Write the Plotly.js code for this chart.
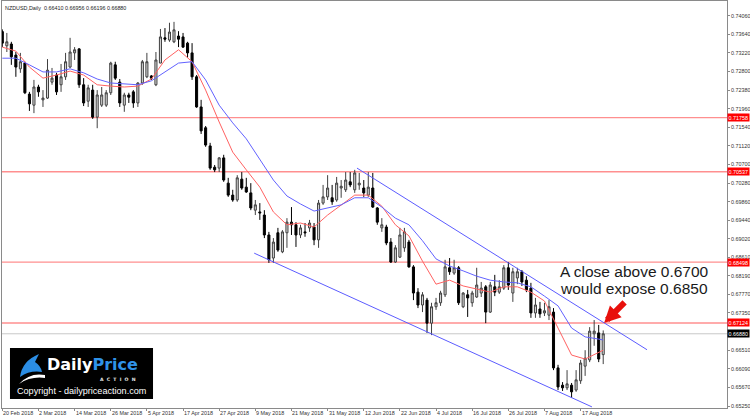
<!DOCTYPE html>
<html><head><meta charset="utf-8">
<script src="https://cdn.plot.ly/plotly-3.0.1.min.js"></script>
<style>html,body{margin:0;padding:0;background:#fff}</style>
</head><body><div id="chart" style="width:750px;height:420px"></div>
<script>
const symbolTitle = "NZDUSD,Daily  0.66410 0.66956 0.66196 0.66880";

const open = [
0.7370,0.7338,0.7342,0.7317,0.7286,0.7299,0.7229,0.7204,0.7245,0.7216,
0.7220,0.7256,0.7272,0.7250,0.7268,0.7290,0.7322,0.7331,0.7250,0.7213,
0.7238,0.7177,0.7204,0.7204,0.7232,0.7295,0.7256,0.7204,0.7227,0.7234,
0.7209,0.7254,0.7268,0.7270,0.7250,0.7299,0.7356,0.7351,0.7347,0.7360,
0.7358,0.7344,0.7322,0.7268,0.7200,0.7153,0.7112,0.7064,0.7062,0.7085,
0.7028,0.7001,0.6990,0.7037,0.7019,0.7006,0.6967,0.6963,0.6956,0.6911,
0.6859,0.6916,0.6873,0.6916,0.6940,0.6934,0.6911,0.6918,0.6927,0.6929,
0.6900,0.6983,0.6997,0.6995,0.6990,0.7017,0.7013,0.7031,0.7013,0.7024,
0.7017,0.7001,0.7017,0.6972,0.6927,0.6929,0.6895,0.6850,0.6861,0.6882,
0.6895,0.6839,0.6782,0.6753,0.6764,0.6712,0.6749,0.6758,0.6776,0.6837,
0.6825,0.6837,0.6749,0.6776,0.6758,0.6771,0.6780,0.6794,0.6737,0.6794,
0.6782,0.6791,0.6837,0.6780,0.6814,0.6828,0.6809,0.6791,0.6735,0.6744,
0.6735,0.6730,0.6737,0.6611,0.6572,0.6566,0.6572,0.6561,0.6582,0.6615,
0.6629,0.6688,0.6690,0.66410];
const high = [
0.7375,0.7367,0.7347,0.7324,0.7322,0.7302,0.7234,0.7261,0.7250,0.7238,
0.7308,0.7288,0.7277,0.7297,0.7322,0.7356,0.7335,0.7333,0.7265,0.7250,
0.7250,0.7238,0.7245,0.7238,0.7302,0.7302,0.7263,0.7232,0.7232,0.7238,
0.7256,0.7306,0.7322,0.7272,0.7324,0.7376,0.7378,0.7390,0.7392,0.7371,
0.7367,0.7347,0.7344,0.7272,0.7216,0.7157,0.7119,0.7069,0.7087,0.7092,
0.7040,0.7013,0.7046,0.7053,0.7040,0.7028,0.6990,0.6983,0.6967,0.6918,
0.6904,0.6927,0.6922,0.6949,0.6974,0.6940,0.6934,0.6938,0.6945,0.6938,
0.6990,0.7024,0.7046,0.7024,0.7042,0.7035,0.7053,0.7053,0.7058,0.7051,
0.7035,0.7053,0.7051,0.6974,0.6949,0.6934,0.6904,0.6888,0.6927,0.6927,
0.6900,0.6843,0.6791,0.6782,0.6769,0.6758,0.6769,0.6785,0.6855,0.6859,
0.6855,0.6841,0.6782,0.6787,0.6785,0.6837,0.6805,0.6798,0.6805,0.6821,
0.6809,0.6843,0.6850,0.6837,0.6837,0.6832,0.6818,0.6803,0.6769,0.6760,
0.6758,0.6764,0.6746,0.6618,0.6579,0.6606,0.6577,0.6606,0.6629,0.6651,
0.6703,0.6719,0.6708,0.66956];
const low = [
0.7335,0.7324,0.7295,0.7268,0.7277,0.7229,0.7191,0.7186,0.7223,0.7200,
0.7218,0.7250,0.7227,0.7234,0.7261,0.7288,0.7306,0.7243,0.7202,0.7200,
0.7173,0.7152,0.7200,0.7200,0.7227,0.7261,0.7200,0.7189,0.7209,0.7198,
0.7200,0.7250,0.7265,0.7261,0.7247,0.7299,0.7347,0.7347,0.7344,0.7335,
0.7333,0.7311,0.7261,0.7198,0.7139,0.7110,0.7058,0.7053,0.7053,0.7031,
0.6997,0.6986,0.6986,0.7013,0.7006,0.6967,0.6956,0.6945,0.6904,0.6848,
0.6848,0.6873,0.6870,0.6882,0.6911,0.6884,0.6904,0.6907,0.6918,0.6888,
0.6882,0.6979,0.6990,0.6979,0.6986,0.6995,0.7008,0.7019,0.7006,0.7013,
0.6997,0.6997,0.6972,0.6934,0.6918,0.6888,0.6848,0.6848,0.6859,0.6873,
0.6837,0.6764,0.6746,0.6737,0.6690,0.6685,0.6742,0.6751,0.6771,0.6821,
0.6821,0.6753,0.6746,0.6726,0.6749,0.6769,0.6771,0.6712,0.6735,0.6773,
0.6778,0.6787,0.6787,0.6760,0.6800,0.6796,0.6782,0.6724,0.6724,0.6724,
0.6728,0.6719,0.6606,0.6561,0.6559,0.6561,0.6543,0.6557,0.6575,0.6593,
0.6624,0.6661,0.6624,0.66196];
const close = [
0.7344,0.7347,0.7313,0.7290,0.7302,0.7232,0.7207,0.7245,0.7234,0.7220,
0.7283,0.7265,0.7234,0.7268,0.7302,0.7324,0.7329,0.7250,0.7209,0.7243,
0.7177,0.7227,0.7227,0.7232,0.7299,0.7265,0.7209,0.7227,0.7222,0.7209,
0.7254,0.7302,0.7302,0.7265,0.7306,0.7358,0.7353,0.7369,0.7374,0.7353,
0.7335,0.7322,0.7268,0.7200,0.7146,0.7114,0.7062,0.7058,0.7085,0.7035,
0.7001,0.6990,0.7040,0.7017,0.7008,0.6972,0.6979,0.6961,0.6911,0.6855,
0.6895,0.6877,0.6918,0.6940,0.6934,0.6911,0.6927,0.6916,0.6938,0.6900,
0.6983,0.6997,0.7017,0.6986,0.7028,0.7021,0.7035,0.7024,0.7051,0.7028,
0.7006,0.7019,0.6974,0.6940,0.6934,0.6893,0.6850,0.6882,0.6911,0.6918,
0.6839,0.6780,0.6753,0.6776,0.6712,0.6749,0.6758,0.6780,0.6839,0.6828,
0.6837,0.6758,0.6780,0.6769,0.6780,0.6798,0.6791,0.6737,0.6798,0.6782,
0.6794,0.6837,0.6798,0.6828,0.6828,0.6805,0.6787,0.6735,0.6753,0.6733,
0.6740,0.6749,0.6611,0.6568,0.6566,0.6575,0.6557,0.6584,0.6622,0.6633,
0.6694,0.6694,0.6631,0.66880];

const dateLabels = ["20 Feb 2018","2 Mar 2018","14 Mar 2018","26 Mar 2018","5 Apr 2018","17 Apr 2018",
"27 Apr 2018","9 May 2018","21 May 2018","31 May 2018","12 Jun 2018","22 Jun 2018","4 Jul 2018",
"16 Jul 2018","26 Jul 2018","7 Aug 2018","17 Aug 2018"];
const daysPerLabel = 8;

const maDay = [0,3,6,9,12,15,18,21,24,27,30,33,36,39,42,45,48,51,54,57,60,63,66,69,72,75,78,81,84,87,90,93,96,99,102,105,108,111,114,117,120,123,126,129,132,133];
const maFast = [0.7335,0.7326,0.7290,0.7265,0.7272,0.7281,0.7272,0.7250,0.7247,0.7245,0.7247,0.7263,0.7306,0.7329,0.7302,0.7238,0.7166,0.7098,0.7058,0.7019,0.6963,0.6934,0.6938,0.6929,0.6956,0.6979,0.7001,0.7001,0.6976,0.6934,0.6909,0.6852,0.6800,0.6809,0.6796,0.6789,0.6782,0.6794,0.6794,0.6782,0.6762,0.6701,0.6640,0.6631,0.6647,0.6651];
const maSlow = [0.7310,0.7310,0.7295,0.7279,0.7279,0.7286,0.7277,0.7263,0.7254,0.7252,0.7250,0.7259,0.7279,0.7299,0.7302,0.7261,0.7204,0.7164,0.7128,0.7080,0.7035,0.6999,0.6981,0.6965,0.6972,0.6979,0.6995,0.6995,0.6974,0.6949,0.6934,0.6898,0.6857,0.6841,0.6830,0.6818,0.6809,0.6805,0.6803,0.6794,0.6773,0.6751,0.6701,0.6681,0.6676,0.6674];

const upperDay = [78.5, 142.7], upperPrice = [0.7062, 0.6652];
const lowerDay = [55.75, 130.5], lowerPrice = [0.6870, 0.6523];

const levels = [0.71758, 0.70537, 0.68498, 0.67124];
const lastPrice = 0.66880;
const yTicks = [0.74060,0.73640,0.73220,0.72800,0.72380,0.71960,0.71540,0.71120,0.70700,0.70280,0.69860,0.69440,0.69020,0.68610,0.68190,0.67770,0.67350,0.66510,0.66090,0.65670,0.65250];
const note1 = "A close above 0.6700", note2 = "would expose 0.6850";
const arrowDay = 133.2, arrowPrice = 0.67124;

const days = open.map((_, i) => i);
const tickDays = dateLabels.map((_, k) => k * daysPerLabel);
const FONT = "Liberation Sans, Arial, sans-serif";

// pixel -> paper helper for the decorative logo and free texts
const W = 725, H = 407, L0 = 2, T0 = 1;
const px = x => ((x - L0) / W).toFixed(4);
const py = y => ((T0 + H - y) / H).toFixed(4);
const pt = (x, y) => px(x) + "," + py(y);

const traces = [
  {type:"candlestick", x:days, open:open, high:high, low:low, close:close,
   increasing:{line:{color:"#404040",width:1}, fillcolor:"#d6d6d6"},
   decreasing:{line:{color:"#000000",width:1}, fillcolor:"#000000"},
   whiskerwidth:0, hoverinfo:"skip", showlegend:false},
  {type:"scatter", mode:"lines", x:maDay, y:maFast, line:{color:"#ff6262",width:1}, hoverinfo:"skip"},
  {type:"scatter", mode:"lines", x:maDay, y:maSlow, line:{color:"#6262ff",width:1}, hoverinfo:"skip"},
  {type:"scatter", mode:"lines", x:upperDay, y:upperPrice, line:{color:"#5c5cff",width:1}, hoverinfo:"skip"},
  {type:"scatter", mode:"lines", x:lowerDay, y:lowerPrice, line:{color:"#5c5cff",width:1}, hoverinfo:"skip"}
];

const shapes = levels.map(v => ({type:"line", xref:"paper", x0:0, x1:1, yref:"y", y0:v, y1:v,
  line:{color:"#ff8f8f", width:1.4}, layer:"below"}));
shapes.push({type:"line", xref:"paper", x0:0, x1:1, yref:"y", y0:lastPrice, y1:lastPrice,
  line:{color:"#c8c8c8", width:1}, layer:"below"});
// logo
shapes.push({type:"rect", xref:"paper", yref:"paper", x0:px(10), x1:px(153), y0:py(399), y1:py(348),
  fillcolor:"#000", line:{width:0}, layer:"above"});
shapes.push({type:"path", xref:"paper", yref:"paper", layer:"above",
  path:"M"+pt(19,384)+" Q"+pt(30,372)+" "+pt(45,375)+" L"+pt(45,378)+" Q"+pt(31,376)+" "+pt(19,384)+" Z",
  fillcolor:"#ffffff", line:{width:0}});
shapes.push({type:"path", xref:"paper", yref:"paper", layer:"above",
  path:"M"+pt(20,377)+" Q"+pt(22,361)+" "+pt(39,354)+" L"+pt(35,362)+" Q"+pt(41,366)+" "+pt(42,372)+" Q"+pt(30,370)+" "+pt(20,377)+" Z",
  fillcolor:"#2b8de4", line:{width:0}});

const annotations = [];
// date labels, left-aligned at their tick
dateLabels.forEach((lab, k) => annotations.push({xref:"x", x:tickDays[k], xanchor:"left", xshift:0,
  yref:"paper", y:0, yanchor:"top", yshift:-1, text:lab, showarrow:false, borderpad:0,
  font:{family:FONT, size:5.4, color:"#333"}}));
levels.forEach(v => annotations.push({xref:"paper", x:1, xanchor:"left", yref:"y", y:v, yanchor:"middle",
  text:v.toFixed(5), showarrow:false, bgcolor:"#ff0000", borderpad:0.6,
  font:{family:FONT, size:5.4, color:"#ffffff"}}));
annotations.push({xref:"paper", x:1, xanchor:"left", yref:"y", y:lastPrice, yanchor:"middle",
  text:lastPrice.toFixed(5), showarrow:false, bgcolor:"#000000", borderpad:0.6,
  font:{family:FONT, size:5.4, color:"#ffffff"}});
annotations.push({xref:"paper", yref:"paper", x:0, y:1, xanchor:"left", yanchor:"top", xshift:1, yshift:-2,
  text:symbolTitle, showarrow:false, font:{family:FONT, size:5.4, color:"#222"}});
annotations.push({xref:"paper", yref:"paper", x:px(635), y:py(272), xanchor:"center", yanchor:"middle",
  text:note1, showarrow:false, font:{family:FONT, size:15.5, color:"#1a1a1a"}});
annotations.push({xref:"paper", yref:"paper", x:px(634), y:py(289), xanchor:"center", yanchor:"middle",
  text:note2, showarrow:false, font:{family:FONT, size:15.5, color:"#1a1a1a"}});
annotations.push({x:arrowDay, y:arrowPrice, xref:"x", yref:"y", ax:22, ay:-22, text:"",
  showarrow:true, arrowhead:2, arrowsize:0.55, arrowwidth:6, arrowcolor:"#e8100c", standoff:0});
// logo text
annotations.push({xref:"paper", yref:"paper", x:px(46), y:py(375), xanchor:"left", yanchor:"bottom",
  text:"<b>Daily<span style='color:#2f92e8'>Price</span></b>", showarrow:false, borderpad:0,
  font:{family:"DejaVu Sans, sans-serif", size:16, color:"#ffffff"}});
annotations.push({xref:"paper", yref:"paper", x:px(118), y:py(376), xanchor:"center", yanchor:"top",
  text:"<b>A&nbsp;&nbsp;C&nbsp;&nbsp;T&nbsp;&nbsp;I&nbsp;&nbsp;O&nbsp;&nbsp;N</b>", showarrow:false, borderpad:0,
  font:{family:"DejaVu Sans, sans-serif", size:4.6, color:"#e8e8e8"}});
annotations.push({xref:"paper", yref:"paper", x:px(81), y:py(391), xanchor:"center", yanchor:"middle",
  text:"Copyright - dailypriceaction.com", showarrow:false,
  font:{family:FONT, size:9.1, color:"#ffffff"}});

const layout = {
  width:750, height:420,
  margin:{l:2, r:23, t:1, b:12},
  paper_bgcolor:"#ffffff", plot_bgcolor:"#ffffff",
  showlegend:false, boxgap:0.35,
  xaxis:{range:[-0.07,160.4], showgrid:false, zeroline:false, showline:true, mirror:true,
    linecolor:"#8a8a8a", linewidth:1, rangeslider:{visible:false},
    tickmode:"array", tickvals:tickDays, showticklabels:false,
    ticks:"outside", ticklen:2, tickcolor:"#8a8a8a"},
  yaxis:{range:[0.65205,0.74391], side:"right", showgrid:false, zeroline:false, showline:true, mirror:true,
    linecolor:"#8a8a8a", linewidth:1, tickmode:"array", tickvals:yTicks,
    ticktext:yTicks.map(v => v.toFixed(5)),
    ticks:"outside", ticklen:2, tickcolor:"#8a8a8a",
    tickfont:{family:FONT, size:5.4, color:"#333"}},
  shapes:shapes, annotations:annotations
};

Plotly.newPlot("chart", traces, layout, {displayModeBar:false, staticPlot:true});
</script>
</body></html>
